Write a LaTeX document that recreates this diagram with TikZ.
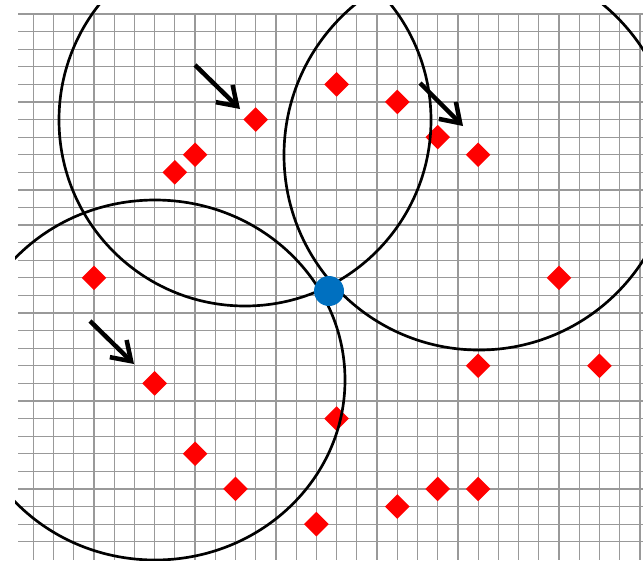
\documentclass[tikz,border=0pt]{standalone}
\usetikzlibrary{arrows.meta, shapes.geometric}
\definecolor{gridgray}{HTML}{999999}
\definecolor{tagred}{HTML}{FF0000}
\definecolor{hubblue}{HTML}{0070C0}
\newcommand{\beacon}[3]{%
  \node[diamond, fill=tagred, inner sep=0pt, minimum width=0.62cm,
        minimum height=0.62cm] (#1) at ({33.3+20.22*#2},{-14-17.59*#3}) {};}

\begin{document}
\begin{tikzpicture}[x=0.025cm, y=0.025cm]
  \useasboundingbox (0,0) rectangle (643,-560);
  % grid
  \foreach \i in {0,...,30}
    \draw[gridgray, line width=0.85pt] ({33.3+20.22*\i},-14) -- ({33.3+20.22*\i},-560);
  \foreach \j in {0,...,30}
    \draw[gridgray, line width=0.85pt] (18,{-14-17.59*\j}) -- (643,{-14-17.59*\j});
  % tags
  \beacon{b1}{11}{6}
  \beacon{b2}{15}{4}
  \beacon{b3}{18}{5}
  \beacon{b4}{20}{7}
  \beacon{b5}{22}{8}
  \beacon{b6}{8}{8}
  \beacon{b7}{7}{9}
  \beacon{b8}{3}{15}
  \beacon{b9}{26}{15}
  \beacon{b10}{6}{21}
  \beacon{b11}{22}{20}
  \beacon{b12}{28}{20}
  \beacon{b13}{15}{23}
  \beacon{b14}{8}{25}
  \beacon{b15}{10}{27}
  \beacon{b16}{20}{27}
  \beacon{b17}{22}{27}
  \beacon{b18}{18}{28}
  \beacon{b19}{14}{29}
  % ranges
  \begin{scope}
    \clip (15,-5) rectangle (643,-560);
    \draw[black, line width=1.9pt] (245,-120) circle[radius=186];
    \draw[black, line width=1.9pt] (479,-155) circle[radius=195];
    \draw[black, line width=1.9pt] (155,-380) ellipse[x radius=190, y radius=180];
  \end{scope}
  \node[circle, fill=hubblue, inner sep=0pt, minimum size=0.75cm] (hub) at (329,-291) {};
  % pointers
  \coordinate (p1) at (195,-65);
  \coordinate (q1) at (240,-109);
  \coordinate (p2) at (420,-83);
  \coordinate (q2) at (463,-126);
  \coordinate (p3) at (90,-321);
  \coordinate (q3) at (134,-364);
  \draw[-{Straight Barb[length=0.45cm, width=0.6cm]}, line width=3.2pt] (p1) -- (q1);
  \draw[-{Straight Barb[length=0.45cm, width=0.6cm]}, line width=3.2pt] (p2) -- (q2);
  \draw[-{Straight Barb[length=0.45cm, width=0.6cm]}, line width=3.2pt] (p3) -- (q3);
\end{tikzpicture}
\end{document}
